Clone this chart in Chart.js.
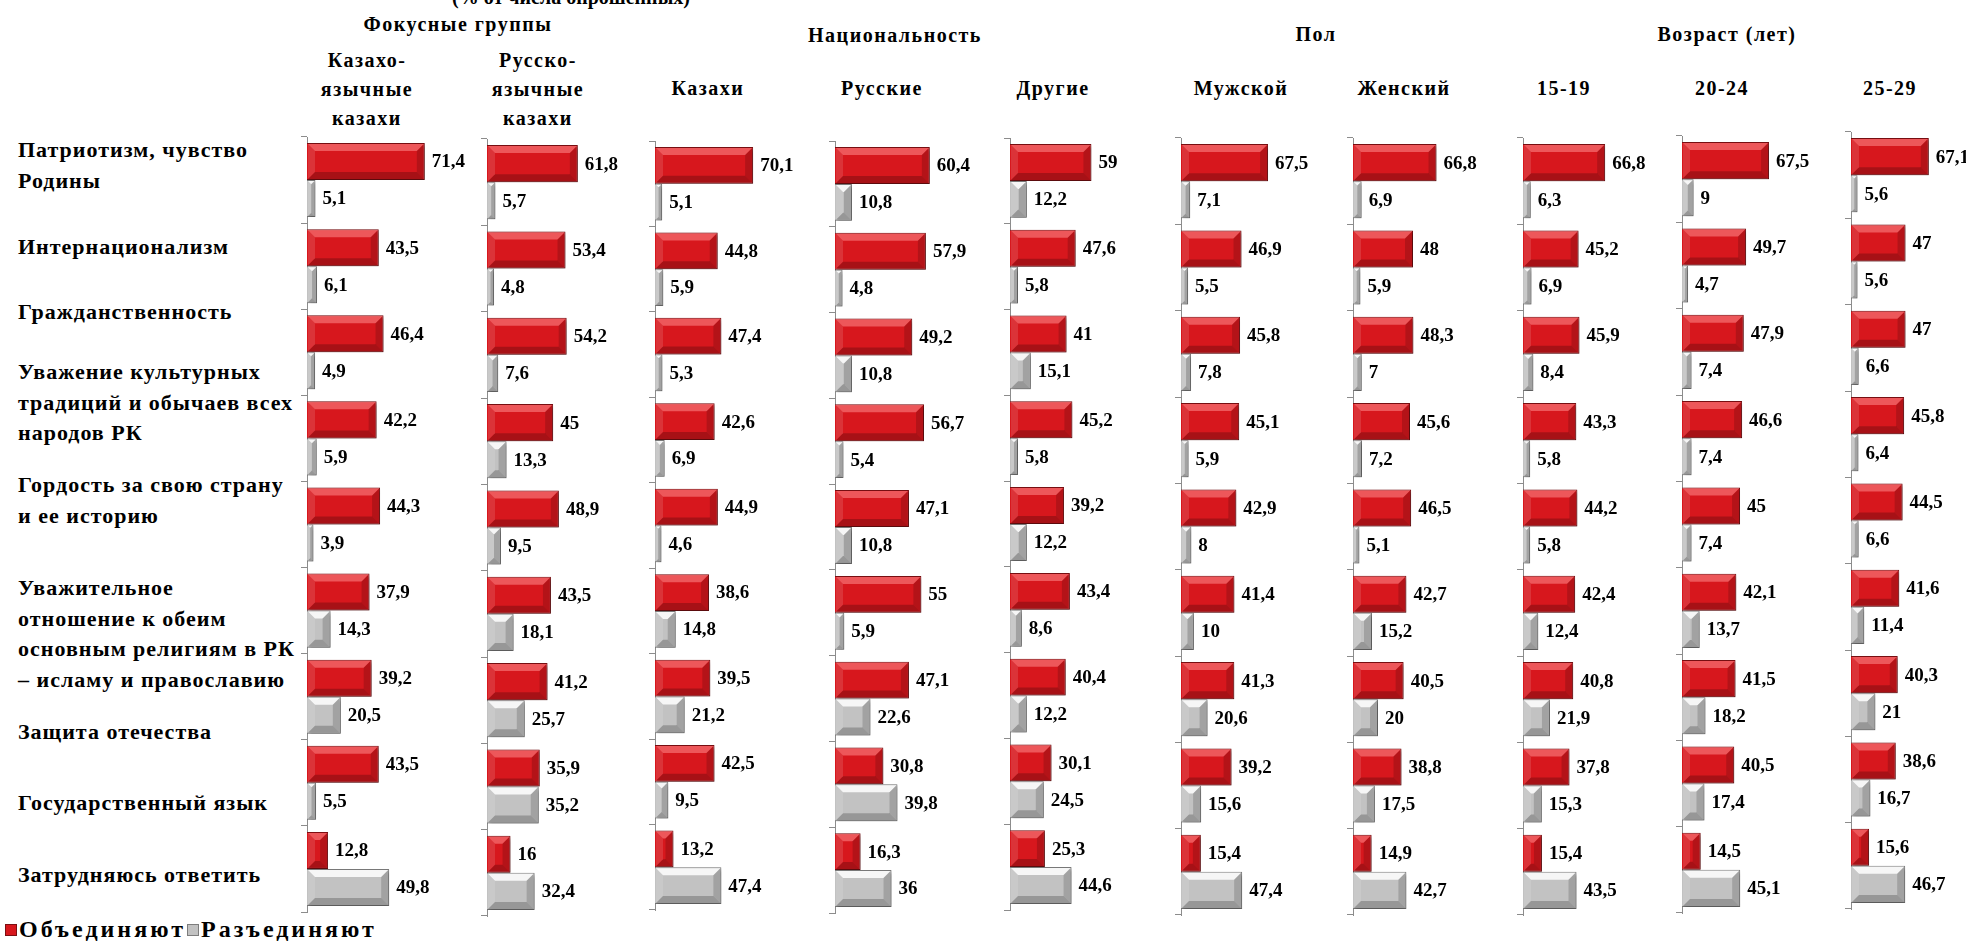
<!DOCTYPE html>
<html>
<head>
<meta charset="utf-8">
<script src="https://cdn.jsdelivr.net/npm/chart.js@4.4.0/dist/chart.umd.min.js"></script>
<style>
body { margin: 0; background: #fff; }
#page { position: relative; width: 1966px; height: 942px; overflow: hidden; background: #fff;
        font-family: "Liberation Serif", "Times New Roman", serif; font-weight: bold; color: #000; }
.hd { position: absolute; white-space: nowrap; font-size: 20px; letter-spacing: 1.5px;
      transform: translate(-50%, -50%); line-height: 1; }
.row { position: absolute; left: 18px; white-space: nowrap; font-size: 22px; letter-spacing: 1px; line-height: 30.5px; }
.legend { position: absolute; left: 5px; top: 916px; font-size: 24px; letter-spacing: 3px; white-space: nowrap; line-height: 27px; }
.legend i { display: inline-block; width: 10px; height: 10px; margin-right: 2px; vertical-align: 1px; }
canvas { position: absolute; }
</style>
</head>
<body>
<div id="page"></div>
<script>
// categories (row labels, already split into lines)
const categories = [
    ["Патриотизм, чувство", "Родины"],
    ["Интернационализм"],
    ["Гражданственность"],
    ["Уважение культурных", "традиций и обычаев всех", "народов РК"],
    ["Гордость за свою страну", "и ее историю"],
    ["Уважительное", "отношение к обеим", "основным религиям в РК", "– исламу и православию"],
    ["Защита отечества"],
    ["Государственный язык"],
    ["Затрудняюсь ответить"]
];
const seriesNames = ["Объединяют", "Разъединяют"];
const groupTitles = ["Фокусные группы", "Национальность", "Пол", "Возраст (лет)"];
const columnLabels = [
    ["Казахо-", "язычные", "казахи"], ["Русско-", "язычные", "казахи"],
    ["Казахи"], ["Русские"], ["Другие"], ["Мужской"], ["Женский"],
    ["15-19"], ["20-24"], ["25-29"]
];

// values, % (Объединяют / Разъединяют) per column
const kazLangUnite   = [71.4, 43.5, 46.4, 42.2, 44.3, 37.9, 39.2, 43.5, 12.8];
const kazLangDivide  = [5.1, 6.1, 4.9, 5.9, 3.9, 14.3, 20.5, 5.5, 49.8];
const rusLangUnite   = [61.8, 53.4, 54.2, 45, 48.9, 43.5, 41.2, 35.9, 16];
const rusLangDivide  = [5.7, 4.8, 7.6, 13.3, 9.5, 18.1, 25.7, 35.2, 32.4];
const kazakhsUnite   = [70.1, 44.8, 47.4, 42.6, 44.9, 38.6, 39.5, 42.5, 13.2];
const kazakhsDivide  = [5.1, 5.9, 5.3, 6.9, 4.6, 14.8, 21.2, 9.5, 47.4];
const russiansUnite  = [60.4, 57.9, 49.2, 56.7, 47.1, 55, 47.1, 30.8, 16.3];
const russiansDivide = [10.8, 4.8, 10.8, 5.4, 10.8, 5.9, 22.6, 39.8, 36];
const othersUnite    = [59, 47.6, 41, 45.2, 39.2, 43.4, 40.4, 30.1, 25.3];
const othersDivide   = [12.2, 5.8, 15.1, 5.8, 12.2, 8.6, 12.2, 24.5, 44.6];
const maleUnite      = [67.5, 46.9, 45.8, 45.1, 42.9, 41.4, 41.3, 39.2, 15.4];
const maleDivide     = [7.1, 5.5, 7.8, 5.9, 8, 10, 20.6, 15.6, 47.4];
const femaleUnite    = [66.8, 48, 48.3, 45.6, 46.5, 42.7, 40.5, 38.8, 14.9];
const femaleDivide   = [6.9, 5.9, 7, 7.2, 5.1, 15.2, 20, 17.5, 42.7];
const age15Unite     = [66.8, 45.2, 45.9, 43.3, 44.2, 42.4, 40.8, 37.8, 15.4];
const age15Divide    = [6.3, 6.9, 8.4, 5.8, 5.8, 12.4, 21.9, 15.3, 43.5];
const age20Unite     = [67.5, 49.7, 47.9, 46.6, 45, 42.1, 41.5, 40.5, 14.5];
const age20Divide    = [9, 4.7, 7.4, 7.4, 7.4, 13.7, 18.2, 17.4, 45.1];
const age25Unite     = [67.1, 47, 47, 45.8, 44.5, 41.6, 40.3, 38.6, 15.6];
const age25Divide    = [5.6, 5.6, 6.6, 6.4, 6.6, 11.4, 21, 16.7, 46.7];

const uniteSets  = [kazLangUnite, rusLangUnite, kazakhsUnite, russiansUnite, othersUnite,
                    maleUnite, femaleUnite, age15Unite, age20Unite, age25Unite];
const divideSets = [kazLangDivide, rusLangDivide, kazakhsDivide, russiansDivide, othersDivide,
                    maleDivide, femaleDivide, age15Divide, age20Divide, age25Divide];

// layout (page pixels)
const panelBox = [
    { axis: 307,  top: 137, bottom: 912, ppu: 1.65 },
    { axis: 487,  top: 139, bottom: 916, ppu: 1.47 },
    { axis: 655,  top: 141, bottom: 910, ppu: 1.40 },
    { axis: 835,  top: 141, bottom: 913, ppu: 1.57 },
    { axis: 1010, top: 138, bottom: 910, ppu: 1.38 },
    { axis: 1181, top: 138, bottom: 915, ppu: 1.29 },
    { axis: 1353, top: 138, bottom: 915, ppu: 1.25 },
    { axis: 1523, top: 138, bottom: 915, ppu: 1.23 },
    { axis: 1682, top: 136, bottom: 913, ppu: 1.29 },
    { axis: 1851, top: 132, bottom: 909, ppu: 1.16 }
];
const columnX = [367, 538, 708, 882, 1053, 1241, 1404, 1564, 1722, 1890];
const groupPos = [[458, 24], [895, 35], [1316, 34], [1727, 34]];
const rowTop = [135, 232, 297, 357, 470, 573, 717, 788, 860];
const colors = { unite: "#d7171d", uniteEdge: "#7c0f12", divide: "#c2c2c2", divideEdge: "#7d7d7d" };

const page = document.getElementById("page");

function addText(cls, html, x, y) {
    const d = document.createElement("div");
    d.className = cls;
    d.innerHTML = html;
    if (x != null) d.style.left = x + "px";
    if (y != null) d.style.top = y + "px";
    page.appendChild(d);
    return d;
}

const sub = addText("hd", "(% от числа опрошенных)", 571, -3);
sub.style.letterSpacing = "0px";
groupTitles.forEach((t, i) => addText("hd", t, groupPos[i][0], groupPos[i][1]));
columnLabels.forEach((lines, i) => {
    if (lines.length == 1) {
        addText("hd", lines[0], columnX[i], 88);
    } else {
        lines.forEach((l, k) => addText("hd", l, columnX[i], 60 + k * 29));
    }
});
categories.forEach((lines, i) => addText("row", lines.join("<br>"), null, rowTop[i]));
addText("legend",
    '<i style="background:' + colors.unite + ';border:1px solid ' + colors.uniteEdge + '"></i>' + seriesNames[0] +
    '<i style="margin-left:1px;background:' + colors.divide + ';border:1px solid ' + colors.divideEdge + '"></i>' + seriesNames[1]);

function fmt(v) {
    return String(v).replace(".", ",");
}

// bevelled bars + value labels
const bevelPlugin = {
    id: "bevel",
    beforeDatasetsDraw(chart) {
        const c = chart.ctx;
        c.save();
        c.shadowColor = "rgba(0,0,0,0.35)";
        c.shadowBlur = 4;
        c.shadowOffsetX = 2;
        c.shadowOffsetY = 2;
    },
    afterDatasetsDraw(chart) {
        const c = chart.ctx;
        c.restore();
        chart.data.datasets.forEach((ds, di) => {
            const meta = chart.getDatasetMeta(di);
            meta.data.forEach((bar, i) => {
                const p = bar.getProps(["x", "y", "base", "height"], true);
                const x0 = p.base + 1, x1 = p.x - 1;
                const y0 = p.y - p.height / 2 + 1, y1 = p.y + p.height / 2 - 1;
                const b = Math.min(7, (x1 - x0) / 2, (y1 - y0) / 4);
                const light = di == 0 ? "rgba(255,140,140,0.55)" : "rgba(255,255,255,0.85)";
                c.save();
                c.fillStyle = light;
                c.beginPath();
                c.moveTo(x0, y0); c.lineTo(x1, y0); c.lineTo(x1 - b, y0 + b); c.lineTo(x0 + b, y0 + b);
                c.closePath(); c.fill();
                c.fillStyle = "rgba(255,255,255,0.12)";
                c.beginPath();
                c.moveTo(x0, y0); c.lineTo(x0 + b, y0 + b); c.lineTo(x0 + b, y1 - b); c.lineTo(x0, y1);
                c.closePath(); c.fill();
                c.fillStyle = "rgba(0,0,0,0.16)";
                c.beginPath();
                c.moveTo(x1, y0); c.lineTo(x1, y1); c.lineTo(x1 - b, y1 - b); c.lineTo(x1 - b, y0 + b);
                c.closePath(); c.fill();
                c.fillStyle = "rgba(0,0,0,0.22)";
                c.beginPath();
                c.moveTo(x0, y1); c.lineTo(x1, y1); c.lineTo(x1 - b, y1 - b); c.lineTo(x0 + b, y1 - b);
                c.closePath(); c.fill();
                c.restore();

                c.save();
                c.font = 'bold 19px "Liberation Serif"';
                c.fillStyle = "#000";
                c.textAlign = "left";
                c.textBaseline = "middle";
                c.fillText(fmt(ds.data[i]), p.x + 7, p.y + 1);
                c.restore();
            });
        });
    }
};

const padTop = 4, padBottom = 8, tick = 6;

panelBox.forEach((box, k) => {
    const cv = document.createElement("canvas");
    const w = tick + Math.round(100 * box.ppu);
    const h = box.bottom - box.top + padTop + padBottom;
    cv.width = w;
    cv.height = h;
    cv.style.left = (box.axis - tick) + "px";
    cv.style.top = (box.top - padTop) + "px";
    page.appendChild(cv);

    new Chart(cv, {
        type: "bar",
        data: {
            labels: categories.map(c => c.join(" ")),
            datasets: [{
                label: seriesNames[0],
                data: uniteSets[k],
                backgroundColor: colors.unite,
                borderColor: colors.uniteEdge,
                borderWidth: 1
            }, {
                label: seriesNames[1],
                data: divideSets[k],
                backgroundColor: colors.divide,
                borderColor: colors.divideEdge,
                borderWidth: 1
            }]
        },
        options: {
            indexAxis: "y",
            responsive: false,
            animation: false,
            categoryPercentage: 0.86,
            barPercentage: 1,
            layout: { padding: { top: padTop, bottom: padBottom, left: 0, right: 0 } },
            plugins: { legend: { display: false }, tooltip: { enabled: false } },
            scales: {
                x: { display: false, min: 0, max: 100 },
                y: {
                    grid: { drawOnChartArea: false, tickLength: tick, color: "#8c8c8c", offset: true },
                    border: { display: true, color: "#8c8c8c" },
                    ticks: { display: false }
                }
            }
        },
        plugins: [bevelPlugin]
    });
});
</script>
</body>
</html>
